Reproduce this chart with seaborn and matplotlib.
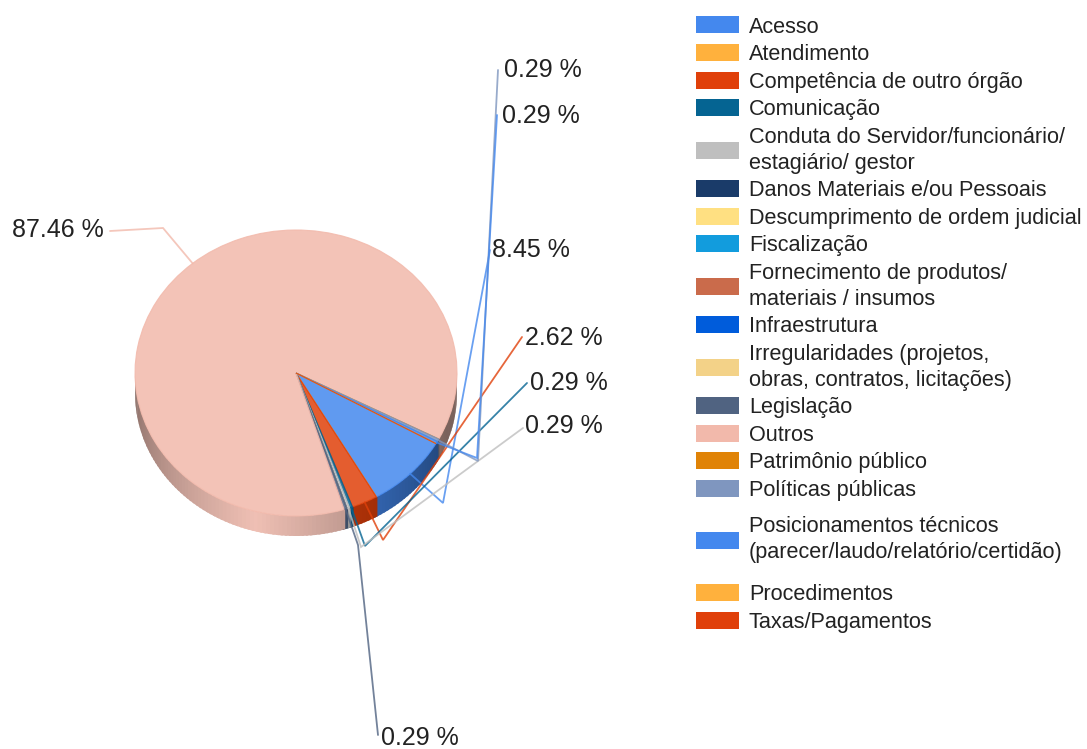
import numpy as np
import matplotlib
matplotlib.use("Agg")
import matplotlib.pyplot as plt
from matplotlib.patches import Patch
import seaborn as sns

categories = ["Acesso", "Atendimento", "Competência de outro órgão", "Comunicação",
              "Conduta do Servidor/funcionário/\nestagiário/ gestor", "Danos Materiais e/ou Pessoais",
              "Descumprimento de ordem judicial", "Fiscalização",
              "Fornecimento de produtos/\nmateriais / insumos", "Infraestrutura",
              "Irregularidades (projetos,\nobras, contratos, licitações)", "Legislação", "Outros",
              "Patrimônio público", "Políticas públicas",
              "Posicionamentos técnicos\n(parecer/laudo/relatório/certidão)", "Procedimentos", "Taxas/Pagamentos"]
values = [8.45, 0, 2.62, 0.29, 0.29, 0, 0, 0, 0, 0, 0, 0.29, 87.46, 0, 0.29, 0.29, 0, 0]
colors = ["#4488ee", "#ffb13d", "#e0400a", "#056492", "#bfbfbf", "#1a3b69", "#ffe082", "#129cdd",
          "#ca6b4b", "#005cdb", "#f3d288", "#506381", "#f2b9ab", "#e08307", "#7f96bf", "#4488ee",
          "#ffb13d", "#e0400a"]
label_texts = ["8.45 %", "2.62 %", "0.29 %", "0.29 %", "0.29 %", "87.46 %", "0.29 %", "0.29 %"]

W, H = 1087, 749
CX, CY, RX, RY, DEPTH = 296, 373, 161, 143, 20
START = -29.6

sns.set_theme(style="white")
plt.rcParams["font.family"] = ["Liberation Sans", "DejaVu Sans"]
palette = sns.color_palette(colors)

fig = plt.figure(figsize=(W / 100, H / 100), dpi=100, facecolor="white")
ax = fig.add_axes([0, 0, 1, 1])


def to_xy(px, py):
    return (px - CX) / RX, (CY - py) / RY


vals = np.array(values)
wedges, _ = ax.pie(vals, colors=palette, startangle=START, counterclock=False, radius=1)
for w, c in zip(wedges, palette):
    w.set_alpha(0.85)
    w.set_edgecolor(c)
    w.set_linewidth(0.8)
    w.set_zorder(3)
ax.set_aspect("auto")
ax.set_xlim(-CX / RX, (W - CX) / RX)
ax.set_ylim((CY - H) / RY, CY / RY)
ax.axis("off")

# side wall of the pie, shaded along the rim
edges = START - np.concatenate([[0], np.cumsum(vals)]) / vals.sum() * 360
dz = DEPTH / RY
for i, v in enumerate(vals):
    if v == 0:
        continue
    a0, a1 = edges[i], edges[i + 1]
    grid = np.arange(a0, a1 - 1.5, -1.5).tolist() + [a1]
    base = np.array(palette[i])
    if categories[i] == "Outros":
        base = base * 0.85 + 0.15
    for s, e in zip(grid[:-1], grid[1:]):
        m = ((s + e) / 2 + 180) % 360 - 180
        if not -180 <= m <= 0:
            continue
        t = np.radians(np.linspace(s + 0.4, e - 0.4, 4))
        x, y = np.cos(t), np.sin(t)
        factor = max(0.5, 0.98 - abs(m + 105) / 75 * 0.43)
        col = tuple(np.clip(base * factor, 0, 1))
        ax.fill(np.r_[x, x[::-1]], np.r_[y, y[::-1] - dz], facecolor=col, edgecolor="none",
                lw=0, zorder=2 + 0.0001 * abs(m))

# leader lines: slice rim -> elbow -> label
elbows = [(443, 503), (383, 540), (365, 546), (361, 547), (358, 545), (163, 228), (478, 461), (477, 458)]
ends = [(490, 250), (522, 337), (527, 383), (523, 428), (378, 735), (110, 231), (498, 70), (497, 115)]
anchors = [(492, 250), (525, 338), (530, 383), (525, 426), (381, 738), (12, 230), (504, 70), (502, 116)]
shown = [i for i, v in enumerate(vals) if v > 0]
for k, i in enumerate(shown):
    mid = np.radians((edges[i] + edges[i + 1]) / 2)
    sx, sy = np.cos(mid), np.sin(mid)
    ex, ey = to_xy(*elbows[k])
    tx, ty = to_xy(*ends[k])
    ax.plot([sx, ex, tx], [sy, ey, ty], color=palette[i], lw=1.3, alpha=0.8, zorder=4,
            solid_joinstyle="miter")
    lx, ly = to_xy(*anchors[k])
    ax.text(lx, ly, label_texts[k], fontsize=18, color="#222222", ha="left", va="center", zorder=5)

# legend, in three groups because of the wider gap round one entry
handles = [Patch(facecolor=palette[i], edgecolor="none", label=categories[i]) for i in range(len(categories))]
FS = 15.6
groups = [(handles[:15], 16.5), (handles[15:16], 516), (handles[16:], 584)]
for hs, top in groups:
    leg = fig.legend(handles=hs, loc="upper left", bbox_to_anchor=(696 / W, 1 - top / H),
                     bbox_transform=fig.transFigure, frameon=False, fontsize=FS, ncol=1,
                     handlelength=1.98, handleheight=0.83, handletextpad=0.46,
                     labelspacing=0.3, borderaxespad=0, borderpad=0, labelcolor="#222222")
    for t in leg.get_texts():
        t.set_linespacing(1.32)

fig.savefig("out.png", dpi=100, facecolor="white")
